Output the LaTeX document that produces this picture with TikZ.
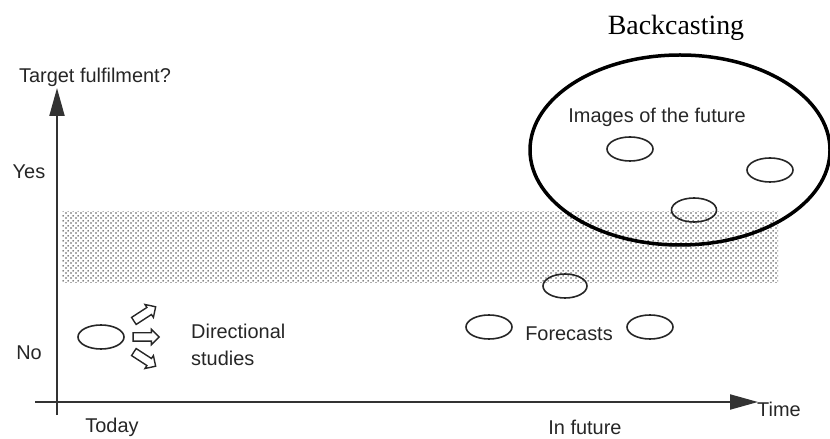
\documentclass[tikz,border=0pt]{standalone}
\usepackage{fontspec}
\setmainfont{Liberation Sans}
\newfontfamily\titleface{Liberation Serif}
\usetikzlibrary{shapes,arrows.meta,positioning,patterns}
\pgfdeclarepatternformonly{bigdots}{\pgfpointorigin}{\pgfpoint{5bp}{5bp}}{\pgfpoint{5bp}{5bp}}{
    \pgfpathcircle{\pgfpoint{1.25bp}{1.25bp}}{1.05bp}
    \pgfpathcircle{\pgfpoint{3.75bp}{3.75bp}}{1.05bp}
    \pgfusepath{fill}
}
\tikzset{
    axisline/.style={
        draw=black!80,            % dark grey axis
        line width=2bp,           % fairly heavy stroke
        -{Triangle[length=28bp,width=15bp]} % long filled tip
    },
    oval/.style={
        ellipse,                  % small scenario ellipse
        draw=black!85,
        line width=1.6bp,
        minimum width=46bp,
        minimum height=24bp,
        inner sep=0pt
    },
    bigoval/.style={
        ellipse,                  % the backcasting region
        draw=black,
        line width=3.5bp,         % thickest line of the picture
        minimum width=300bp,
        minimum height=190bp,
        inner sep=0pt
    },
    hollowarrow/.style={
        single arrow,             % block arrow, not filled
        draw=black!85,
        line width=1.4bp,
        minimum height=26bp,      % tip to tail
        inner xsep=0pt,
        inner ysep=3.5bp,         % shaft width
        single arrow head extend=3.5bp
    },
    axistext/.style={
        font=\fontsize{20}{24}\selectfont,
        text=black!85,
        inner sep=0pt
    }
}
\begin{document}
\begin{tikzpicture}[x=1bp,y=-1bp,node distance=4bp]
    \useasboundingbox (0,0) rectangle (830,439);
    % target band
    \fill[pattern=bigdots, pattern color=black!65] (62,212) rectangle (778,283);
    % axes
    \coordinate (ybottom) at (57,415);
    \coordinate (ytop) at (57,88);
    \coordinate (xleft) at (35,402);
    \coordinate (xright) at (758,402);
    \draw[axisline] (ybottom) -- (ytop);
    \draw[axisline] (xleft) -- (xright);
    \node[axistext] (target) at (95,77) {Target fulfilment?};
    \node[axistext] (yes) at (29,172) {Yes};
    \node[axistext] (no) at (29,353) {No};
    \node[axistext, anchor=west] (time) at (757,409) {Time};
    \node[axistext] (today) at (112,427) {Today};
    \node[axistext] (infuture) at (585,427) {In future};
    % directional studies
    \node[oval] (now) at (101,337) {};
    \node[hollowarrow, rotate=33] (arrowup) at (143,315) {};
    \node[hollowarrow] (arrowright) at (144,337) {};
    \node[hollowarrow, rotate=-33] (arrowdown) at (143,358) {};
    \node[axistext, anchor=west, align=left] (directional) at (191,345) {Directional\\[3bp]studies};
    % forecasts
    \node[oval] (forecastA) at (489,327) {};
    \node[oval] (forecastB) at (650,327) {};
    \node[oval, minimum width=44bp] (forecastC) at (565,286) {};
    \node[axistext] (forecasts) at (569,334) {Forecasts};
    % backcasting
    \node[bigoval] (backcasting) at (680,150) {};
    \node[font=\titleface\fontsize{28}{32}\selectfont, inner sep=0pt] (title) at (676,28) {Backcasting};
    \node[axistext] (images) at (657,117) {Images of the future};
    \node[oval] (imageA) at (630,149) {};
    \node[oval] (imageB) at (770,170) {};
    \node[oval, minimum width=45bp] (imageC) at (694,210) {};
\end{tikzpicture}
\end{document}
